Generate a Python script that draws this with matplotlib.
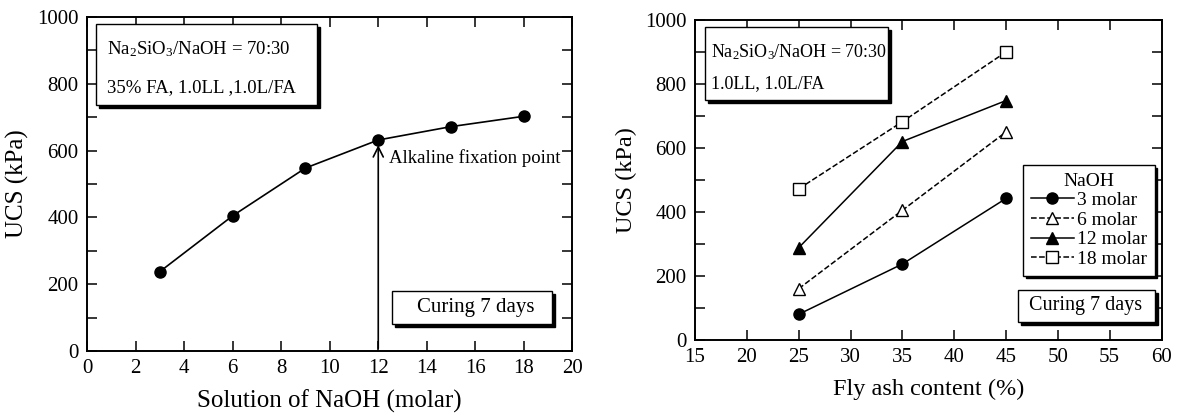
import matplotlib
matplotlib.use("Agg")
import matplotlib.pyplot as plt
from matplotlib.patches import Rectangle
from matplotlib.ticker import MultipleLocator
import matplotlib.transforms as mtransforms

plt.rcParams['font.family'] = ['Liberation Serif', 'DejaVu Serif']
plt.rcParams['mathtext.fontset'] = 'custom'
plt.rcParams['mathtext.rm'] = 'Liberation Serif'
plt.rcParams['mathtext.it'] = 'Liberation Serif:italic'

# left panel: UCS vs NaOH concentration
naoh_molar = [3, 6, 9, 12, 15, 18]
ucs_naoh = [238, 405, 548, 632, 672, 703]

# right panel: UCS vs fly ash content
fly_ash = [25, 35, 45]
ucs_3m = [80, 237, 442]
ucs_6m = [160, 405, 650]
ucs_12m = [288, 620, 748]
ucs_18m = [472, 682, 900]

fig = plt.figure(figsize=(11.78, 4.16), dpi=100)
ax1 = fig.add_axes([0.0739, 0.156, 0.412, 0.803])
ax2 = fig.add_axes([0.590, 0.183, 0.396, 0.769])


def shadow_box(ax, x0, y0, x1, y1):
    # black offset rectangle then white framed box on top
    sh = mtransforms.offset_copy(ax.transAxes, fig=fig, x=3, y=-3, units='dots')
    ax.add_patch(Rectangle((x0, y0), x1 - x0, y1 - y0, transform=sh,
                           facecolor='black', edgecolor='black', zorder=5))
    ax.add_patch(Rectangle((x0, y0), x1 - x0, y1 - y0, transform=ax.transAxes,
                           facecolor='white', edgecolor='black', lw=1.0, zorder=6))


def style_axes(ax):
    for s in ax.spines.values():
        s.set_linewidth(1.4)
    ax.tick_params(which='both', direction='in', top=True, right=True,
                   length=7, width=1.1, labelsize=15, pad=6)


# ---- left ----
ax1.plot(naoh_molar, ucs_naoh, '-o', color='black', lw=1.2, markersize=8, zorder=3)
ax1.annotate('', xy=(12, 625), xytext=(12, 0),
             arrowprops=dict(arrowstyle='->', lw=1.2, color='black', mutation_scale=18))
ax1.text(12.45, 578, 'Alkaline fixation point', fontsize=13.5, va='center', ha='left')
ax1.set_xlim(0, 20)
ax1.set_ylim(0, 1000)
ax1.xaxis.set_major_locator(MultipleLocator(2))
ax1.yaxis.set_major_locator(MultipleLocator(200))
ax1.yaxis.set_minor_locator(MultipleLocator(100))
style_axes(ax1)
ax1.set_xlabel('Solution of NaOH (molar)', fontsize=18, labelpad=8)
ax1.set_ylabel('UCS (kPa)', fontsize=18, labelpad=6)

shadow_box(ax1, 0.019, 0.737, 0.474, 0.979)
ax1.text(0.042, 0.905, r'Na$_2$SiO$_3$/NaOH = 70:30', transform=ax1.transAxes,
         fontsize=13.5, va='center', zorder=7)
ax1.text(0.042, 0.79, '35% FA, 1.0LL ,1.0L/FA', transform=ax1.transAxes,
         fontsize=13.5, va='center', zorder=7)
shadow_box(ax1, 0.629, 0.081, 0.959, 0.180)
ax1.text(0.80, 0.13, 'Curing 7 days', transform=ax1.transAxes,
         fontsize=15, va='center', ha='center', zorder=7)

# ---- right ----
ax2.plot(fly_ash, ucs_3m, '-o', color='black', lw=1.1, markersize=8, label='3 molar', zorder=3)
ax2.plot(fly_ash, ucs_6m, '--^', color='black', lw=1.1, markersize=8, mfc='white', label='6 molar', zorder=3)
ax2.plot(fly_ash, ucs_12m, '-^', color='black', lw=1.1, markersize=8, label='12 molar', zorder=3)
ax2.plot(fly_ash, ucs_18m, '--s', color='black', lw=1.1, markersize=8, mfc='white', label='18 molar', zorder=3)
ax2.set_xlim(15, 60)
ax2.set_ylim(0, 1000)
ax2.xaxis.set_major_locator(MultipleLocator(5))
ax2.yaxis.set_major_locator(MultipleLocator(200))
ax2.yaxis.set_minor_locator(MultipleLocator(100))
style_axes(ax2)
ax2.set_xlabel('Fly ash content (%)', fontsize=17.5, labelpad=8)
ax2.set_ylabel('UCS (kPa)', fontsize=17.5, labelpad=6)

shadow_box(ax2, 0.021, 0.75, 0.413, 0.978)
ax2.text(0.035, 0.90, r'Na$_2$SiO$_3$/NaOH = 70:30', transform=ax2.transAxes,
         fontsize=13, va='center', zorder=7)
ax2.text(0.035, 0.80, '1.0LL, 1.0L/FA', transform=ax2.transAxes,
         fontsize=13, va='center', zorder=7)

leg = ax2.legend(loc='upper right', bbox_to_anchor=(0.985, 0.547), fontsize=14,
                 title='NaOH', title_fontsize=14, numpoints=1, handlelength=2.2,
                 handletextpad=0.15, labelspacing=0.1, borderpad=0.4,
                 borderaxespad=0, fancybox=False, framealpha=1, edgecolor='black',
                 shadow={'color': 'black', 'alpha': 1})
leg.get_frame().set_linewidth(1.0)
leg.set_zorder(8)

shadow_box(ax2, 0.692, 0.056, 0.985, 0.156)
ax2.text(0.838, 0.106, 'Curing 7 days', transform=ax2.transAxes,
         fontsize=14.5, va='center', ha='center', zorder=7)

fig.savefig('out.png', dpi=100)
